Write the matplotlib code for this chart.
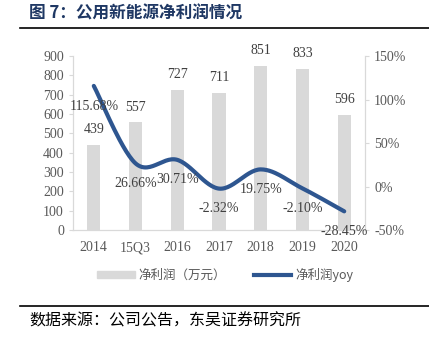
import numpy as np
import matplotlib
matplotlib.use("Agg")
import matplotlib.pyplot as plt
from matplotlib.lines import Line2D
from matplotlib.patches import Patch

plt.rcParams['font.family'] = ['Liberation Serif', 'Noto Sans CJK SC']

# data
categories = ["2014", "15Q3", "2016", "2017", "2018", "2019", "2020"]
net_profit = [439, 557, 727, 711, 851, 833, 596]
yoy = [115.68, 26.66, 30.71, -2.32, 19.75, -2.10, -28.45]

BAR_COLOR = "#D9D9D9"
LINE_COLOR = "#2E5690"
TICK_COLOR = "#595959"
AXIS_COLOR = "#D9D9D9"


def smooth(xs, ys, n=30, tension=0.5):
    # cardinal spline through the points (like excel's smoothed line)
    xs = np.asarray(xs, float)
    ys = np.asarray(ys, float)
    px, py = [], []
    for i in range(len(xs) - 1):
        x0, y0 = (xs[i - 1], ys[i - 1]) if i > 0 else (xs[i], ys[i])
        x3, y3 = (xs[i + 2], ys[i + 2]) if i + 2 < len(xs) else (xs[i + 1], ys[i + 1])
        x1, y1, x2, y2 = xs[i], ys[i], xs[i + 1], ys[i + 1]
        t = np.linspace(0, 1, n)
        m1x, m1y = tension * (x2 - x0), tension * (y2 - y0)
        m2x, m2y = tension * (x3 - x1), tension * (y3 - y1)
        h00 = 2 * t**3 - 3 * t**2 + 1
        h10 = t**3 - 2 * t**2 + t
        h01 = -2 * t**3 + 3 * t**2
        h11 = t**3 - t**2
        px.append(h00 * x1 + h10 * m1x + h01 * x2 + h11 * m2x)
        py.append(h00 * y1 + h10 * m1y + h01 * y2 + h11 * m2y)
    return np.concatenate(px), np.concatenate(py)


fig = plt.figure(figsize=(4.29, 3.46), dpi=100)
ax = fig.add_axes([0.170, 0.335, 0.681, 0.503])
ax2 = ax.twinx()

x = np.arange(len(categories))
ax.bar(x, net_profit, width=0.32, color=BAR_COLOR, zorder=1)
for xi, v in zip(x, net_profit):
    ax.annotate(str(v), (xi, v), xytext=(0, 11), textcoords="offset points",
                ha="center", va="center", fontsize=10, color="#404040")

ax.set_xlim(-0.5, len(categories) - 0.5)
ax.set_ylim(0, 900)
ax.set_yticks(np.arange(0, 901, 100))
ax.set_xticks(x)
ax.set_xticklabels(categories)

sx, sy = smooth(x, yoy)
ax2.plot(sx, sy, color=LINE_COLOR, lw=3, solid_capstyle="round", zorder=3)
for xi, v in zip(x, yoy):
    ax2.annotate(f"{v:.2f}%", (xi, v), xytext=(0, -14.5), textcoords="offset points",
                 ha="center", va="center", fontsize=10, color="#404040")
ax2.set_ylim(-50, 150)
ax2.set_yticks(np.arange(-50, 151, 50))
ax2.set_yticklabels([f"{t}%" for t in range(-50, 151, 50)])

for a in (ax, ax2):
    a.spines["top"].set_visible(False)
    for s in ("left", "right", "bottom"):
        a.spines[s].set_color(AXIS_COLOR)
    a.tick_params(colors=TICK_COLOR, labelsize=10, length=3, color=AXIS_COLOR)
ax.tick_params(axis="x", length=0, pad=8)
ax.set_zorder(ax2.get_zorder() - 1)
ax.patch.set_visible(False)

handles = [Patch(color=BAR_COLOR, label="净利润（万元）"),
           Line2D([0], [0], color=LINE_COLOR, lw=3, label="净利润yoy")]
leg = fig.legend(handles=handles, loc="center", bbox_to_anchor=(0.525, 0.205), ncol=2,
                 frameon=False, handlelength=3, handleheight=0.5, columnspacing=2.2,
                 handletextpad=0.3,
                 prop={"family": ["Noto Sans CJK SC"], "size": 9})
for t in leg.get_texts():
    t.set_color(TICK_COLOR)

fig.text(0.068, 0.962, "图 7：公用新能源净利润情况", fontsize=12, fontweight="bold",
         color="#1F3864", family=["Noto Sans CJK SC"], va="center")
fig.add_artist(Line2D([0.047, 1.0], [0.919, 0.919], color="black", lw=1.2))
fig.add_artist(Line2D([0.047, 1.0], [0.116, 0.116], color="black", lw=1.2))
fig.text(0.068, 0.072, "数据来源：公司公告，东吴证券研究所", fontsize=11.5,
         color="black", family=["Noto Sans CJK SC"], va="center")

fig.savefig("out.png", dpi=100)
